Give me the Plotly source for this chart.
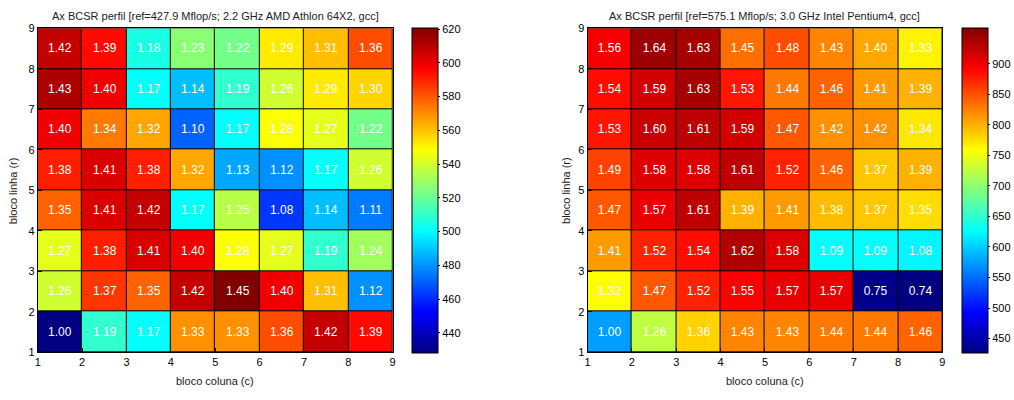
import plotly.graph_objects as go

# block sizes (cell edges) and tick labels
col_edges = [1, 2, 3, 4, 5, 6, 7, 8, 9]
row_edges = [1, 2, 3, 4, 5, 6, 7, 8, 9]
col_centers = [1.5, 2.5, 3.5, 4.5, 5.5, 6.5, 7.5, 8.5]
row_centers = [1.5, 2.5, 3.5, 4.5, 5.5, 6.5, 7.5, 8.5]

# speedup ratios, rows r=1..8 (bottom to top), columns c=1..8
ref_amd = 427.9
ratio_amd = [
    [1.00, 1.19, 1.17, 1.33, 1.33, 1.36, 1.42, 1.39],
    [1.26, 1.37, 1.35, 1.42, 1.45, 1.40, 1.31, 1.12],
    [1.27, 1.38, 1.41, 1.40, 1.28, 1.27, 1.19, 1.24],
    [1.35, 1.41, 1.42, 1.17, 1.25, 1.08, 1.14, 1.11],
    [1.38, 1.41, 1.38, 1.32, 1.13, 1.12, 1.17, 1.26],
    [1.40, 1.34, 1.32, 1.10, 1.17, 1.28, 1.27, 1.22],
    [1.43, 1.40, 1.17, 1.14, 1.19, 1.26, 1.29, 1.30],
    [1.42, 1.39, 1.18, 1.23, 1.22, 1.29, 1.31, 1.36],
]
range_amd = [427.9, 620.5]
ticks_amd = [440, 460, 480, 500, 520, 540, 560, 580, 600, 620]

ref_p4 = 575.1
ratio_p4 = [
    [1.00, 1.26, 1.36, 1.43, 1.43, 1.44, 1.44, 1.46],
    [1.32, 1.47, 1.52, 1.55, 1.57, 1.57, 0.75, 0.74],
    [1.41, 1.52, 1.54, 1.62, 1.58, 1.09, 1.09, 1.08],
    [1.47, 1.57, 1.61, 1.39, 1.41, 1.38, 1.37, 1.35],
    [1.49, 1.58, 1.58, 1.61, 1.52, 1.46, 1.37, 1.39],
    [1.53, 1.60, 1.61, 1.59, 1.47, 1.42, 1.42, 1.34],
    [1.54, 1.59, 1.63, 1.53, 1.44, 1.46, 1.41, 1.39],
    [1.56, 1.64, 1.63, 1.45, 1.48, 1.43, 1.40, 1.33],
]
range_p4 = [426.0, 958.0]
ticks_p4 = [450, 500, 550, 600, 650, 700, 750, 800, 850, 900]

titles = [
    "Ax BCSR perfil [ref=427.9 Mflop/s; 2.2 GHz AMD Athlon 64X2, gcc]",
    "Ax BCSR perfil [ref=575.1 Mflop/s; 3.0 GHz Intel Pentium4, gcc]",
]
xlabel = "bloco coluna (c)"
ylabel = "bloco linha (r)"

jet = [
    [0.0, "rgb(0,0,128)"],
    [0.125, "rgb(0,0,255)"],
    [0.375, "rgb(0,255,255)"],
    [0.625, "rgb(255,255,0)"],
    [0.875, "rgb(255,0,0)"],
    [1.0, "rgb(128,0,0)"],
]

W, H = 1014, 400
FONT = "Liberation Sans, Arial, sans-serif"


def fx(px):
    return px / W


def fy(py):
    return 1 - py / H


panels = [
    dict(ratio=ratio_amd, ref=ref_amd, rng=range_amd, ticks=ticks_amd,
         px=(35, 392), cb=411, title=titles[0], ylab_x=10),
    dict(ratio=ratio_p4, ref=ref_p4, rng=range_p4, ticks=ticks_p4,
         px=(588, 945), cb=965, title=titles[1], ylab_x=567),
]

top, bottom = 23, 357
ydom = [fy(bottom), fy(top)]

fig = go.Figure()
annotations = []
for i, p in enumerate(panels):
    z = [[round(v * p["ref"], 2) for v in row] for row in p["ratio"]]
    txt = [["%.2f" % v for v in row] for row in p["ratio"]]
    xa = "x" if i == 0 else "x2"
    ya = "y" if i == 0 else "y2"
    fig.add_trace(go.Heatmap(
        x=col_centers, y=row_centers, z=z, text=txt,
        texttemplate="%{text}",
        textfont=dict(color="white", size=12, family=FONT),
        colorscale=jet, zmin=p["rng"][0], zmax=p["rng"][1],
        xgap=1, ygap=1, xaxis=xa, yaxis=ya, hoverinfo="skip",
        colorbar=dict(
            x=fx(p["cb"]), xanchor="left", xpad=0, ypad=0,
            y=fy((top + 358) / 2), yanchor="middle",
            len=(358 - top) / H, lenmode="fraction",
            thickness=26, thicknessmode="pixels",
            outlinecolor="black", outlinewidth=1,
            tickvals=p["ticks"], ticks="outside", ticklen=2,
            tickcolor="black",
            tickfont=dict(size=11, family=FONT, color="black"),
        ),
    ))
    dom = [fx(p["px"][0]), fx(p["px"][1])]
    axis_common = dict(
        range=[1, 9], tickvals=col_edges, ticks="inside", ticklen=4,
        tickcolor="black", showgrid=False, zeroline=False,
        showline=True, linecolor="black", linewidth=1, mirror=True,
        tickfont=dict(size=11, family=FONT, color="black"),
    )
    fig.layout["xaxis" if i == 0 else "xaxis2"] = dict(
        axis_common, domain=dom, anchor=ya)
    fig.layout["yaxis" if i == 0 else "yaxis2"] = dict(
        axis_common, domain=ydom, anchor=xa, tickvals=row_edges)
    cx = (dom[0] + dom[1]) / 2
    annotations.append(dict(
        text=p["title"], x=cx, y=fy(10), xref="paper", yref="paper",
        showarrow=False, xanchor="center", yanchor="middle",
        font=dict(size=11, family=FONT, color="#222")))
    annotations.append(dict(
        text=xlabel, x=cx, y=fy(387), xref="paper", yref="paper",
        showarrow=False, xanchor="center", yanchor="middle",
        font=dict(size=11, family=FONT, color="#222")))
    annotations.append(dict(
        text=ylabel, x=fx(p["ylab_x"]), y=(ydom[0] + ydom[1]) / 2,
        xref="paper", yref="paper", textangle=-90,
        showarrow=False, xanchor="center", yanchor="middle",
        font=dict(size=11, family=FONT, color="#222")))

fig.update_layout(
    width=W, height=H, margin=dict(l=0, r=0, t=0, b=0),
    paper_bgcolor="white", plot_bgcolor="black",
    annotations=annotations, showlegend=False,
)
# remove the page's default body margin so the figure sits at the origin
fig.write_html(
    "out.html",
    config={"displayModeBar": False},
    post_script="document.body.style.margin='0';"
                "document.body.style.overflow='hidden';",
)
